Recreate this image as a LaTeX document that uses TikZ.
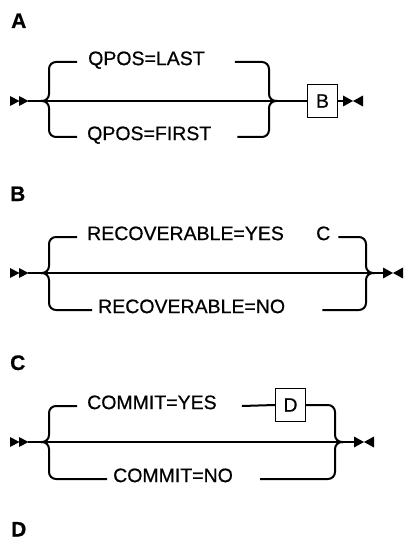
\documentclass[tikz,border=0pt]{standalone}
\usepackage{fontspec}
\setmainfont{Liberation Sans}
\newfontfamily\railfont{Liberation Sans}[FakeBold=0.6]
\newfontfamily\headfont{Liberation Sans Bold}[FakeBold=0.6]
\usepackage{tikz}
\usetikzlibrary{calc}
\tikzset{
  rail/.style={draw=black, line width=2pt, rounded corners=7pt},
  kw/.style={font=\railfont\fontsize{19.5}{22}\selectfont, inner sep=0pt,
             anchor=west, text height=0.72em, text depth=0.1em},
  refbox/.style={draw=black, line width=1.4pt, minimum width=30pt,
                 minimum height=33pt, inner sep=0pt,
                 font=\railfont\fontsize{19.5}{22}\selectfont},
  heading/.style={font=\headfont\fontsize{21}{24}\selectfont,
                  inner sep=0pt, anchor=base west},
  railstart/.pic={
    \fill (0,-5) -- (9.5,0) -- (0,5) -- cycle;
    \fill (9,-5) -- (18.5,0) -- (9,5) -- cycle;
  },
  railend/.pic={
    \fill (0,-5.5) -- (10,0) -- (0,5.5) -- cycle;
    \fill (20,-5.5) -- (10,0) -- (20,5.5) -- cycle;
  },
}

\begin{document}
\begin{tikzpicture}[x=1pt, y=-1pt]
  \useasboundingbox (0,0) rectangle (407,540);

  % headings
  \node[heading] (hA) at (11,28)    {A};
  \node[heading] (hB) at (10,201)   {B};
  \node[heading] (hC) at (10,370)   {C};
  \node[heading] (hD) at (11,536.5) {D};

  % diagram A
  \coordinate (inA)  at (28,101);
  \coordinate (jlA)  at (49,101);
  \coordinate (jrA)  at (269,101);
  \coordinate (outA) at (343,101);
  \pic at (10,101) {railstart};
  \node[kw]     (lastA)  at (88,62)     {QPOS=LAST};
  \node[kw]     (firstA) at (87,137)    {QPOS=FIRST};
  \node[refbox] (boxB)   at (322.5,101) {B};
  \draw[rail] (inA) -- (boxB);
  \draw[rail] (boxB) -- (outA);
  \draw[rail] ([xshift=-8pt]jlA) -- (jlA) |- ([xshift=-11pt]lastA.west);
  \draw[rail] ([xshift=-8pt]jlA) -- (jlA) |- ([xshift=-10pt]firstA.west);
  \draw[rail] ([xshift=30pt]lastA.east)  -| (jrA) -- ([xshift=8pt]jrA);
  \draw[rail] ([xshift=26pt]firstA.east) -| (jrA) -- ([xshift=8pt]jrA);
  \pic at (outA) {railend};

  % diagram B
  \coordinate (inB)  at (28,273);
  \coordinate (jlB)  at (49,273);
  \coordinate (jrB)  at (366,273);
  \coordinate (outB) at (383,273);
  \pic at (10,273) {railstart};
  \node[kw] (yesB) at (87,237)  {RECOVERABLE=YES};
  \node[kw] (refC) at (316,237) {C};
  \node[kw] (noB)  at (98,310)  {RECOVERABLE=NO};
  \draw[rail] (inB) -- (outB);
  \draw[rail] ([xshift=-8pt]jlB) -- (jlB) |- ([xshift=-10pt]yesB.west);
  \draw[rail] ([xshift=-8pt]jlB) -- (jlB) |- ([xshift=-6pt]noB.west);
  \draw[rail] ([xshift=8pt]refC.east) -| (jrB) -- ([xshift=8pt]jrB);
  \draw[rail] ([xshift=37pt]noB.east) -| (jrB) -- ([xshift=8pt]jrB);
  \pic at (outB) {railend};

  % diagram C
  \coordinate (inC)  at (28,442);
  \coordinate (jlC)  at (49,442);
  \coordinate (jrC)  at (335,442);
  \coordinate (outC) at (354,442);
  \pic at (10,442) {railstart};
  \node[kw]     (yesC) at (87,406)    {COMMIT=YES};
  \node[refbox] (boxD) at (290.5,405) {D};
  \node[kw]     (noC)  at (113,479)   {COMMIT=NO};
  \draw[rail] (inC) -- (outC);
  \draw[rail] ([xshift=-8pt]jlC) -- (jlC) |- ([xshift=-10pt]yesC.west);
  \draw[rail] ([xshift=-8pt]jlC) -- (jlC) |- ([xshift=-6pt]noC.west);
  \draw[rail] ([xshift=25pt]yesC.east) -- (boxD.west);
  \draw[rail] (boxD.east) -| (jrC) -- ([xshift=8pt]jrC);
  \draw[rail] ([xshift=27pt]noC.east) -| (jrC) -- ([xshift=8pt]jrC);
  \pic at (outC) {railend};
\end{tikzpicture}
\end{document}
